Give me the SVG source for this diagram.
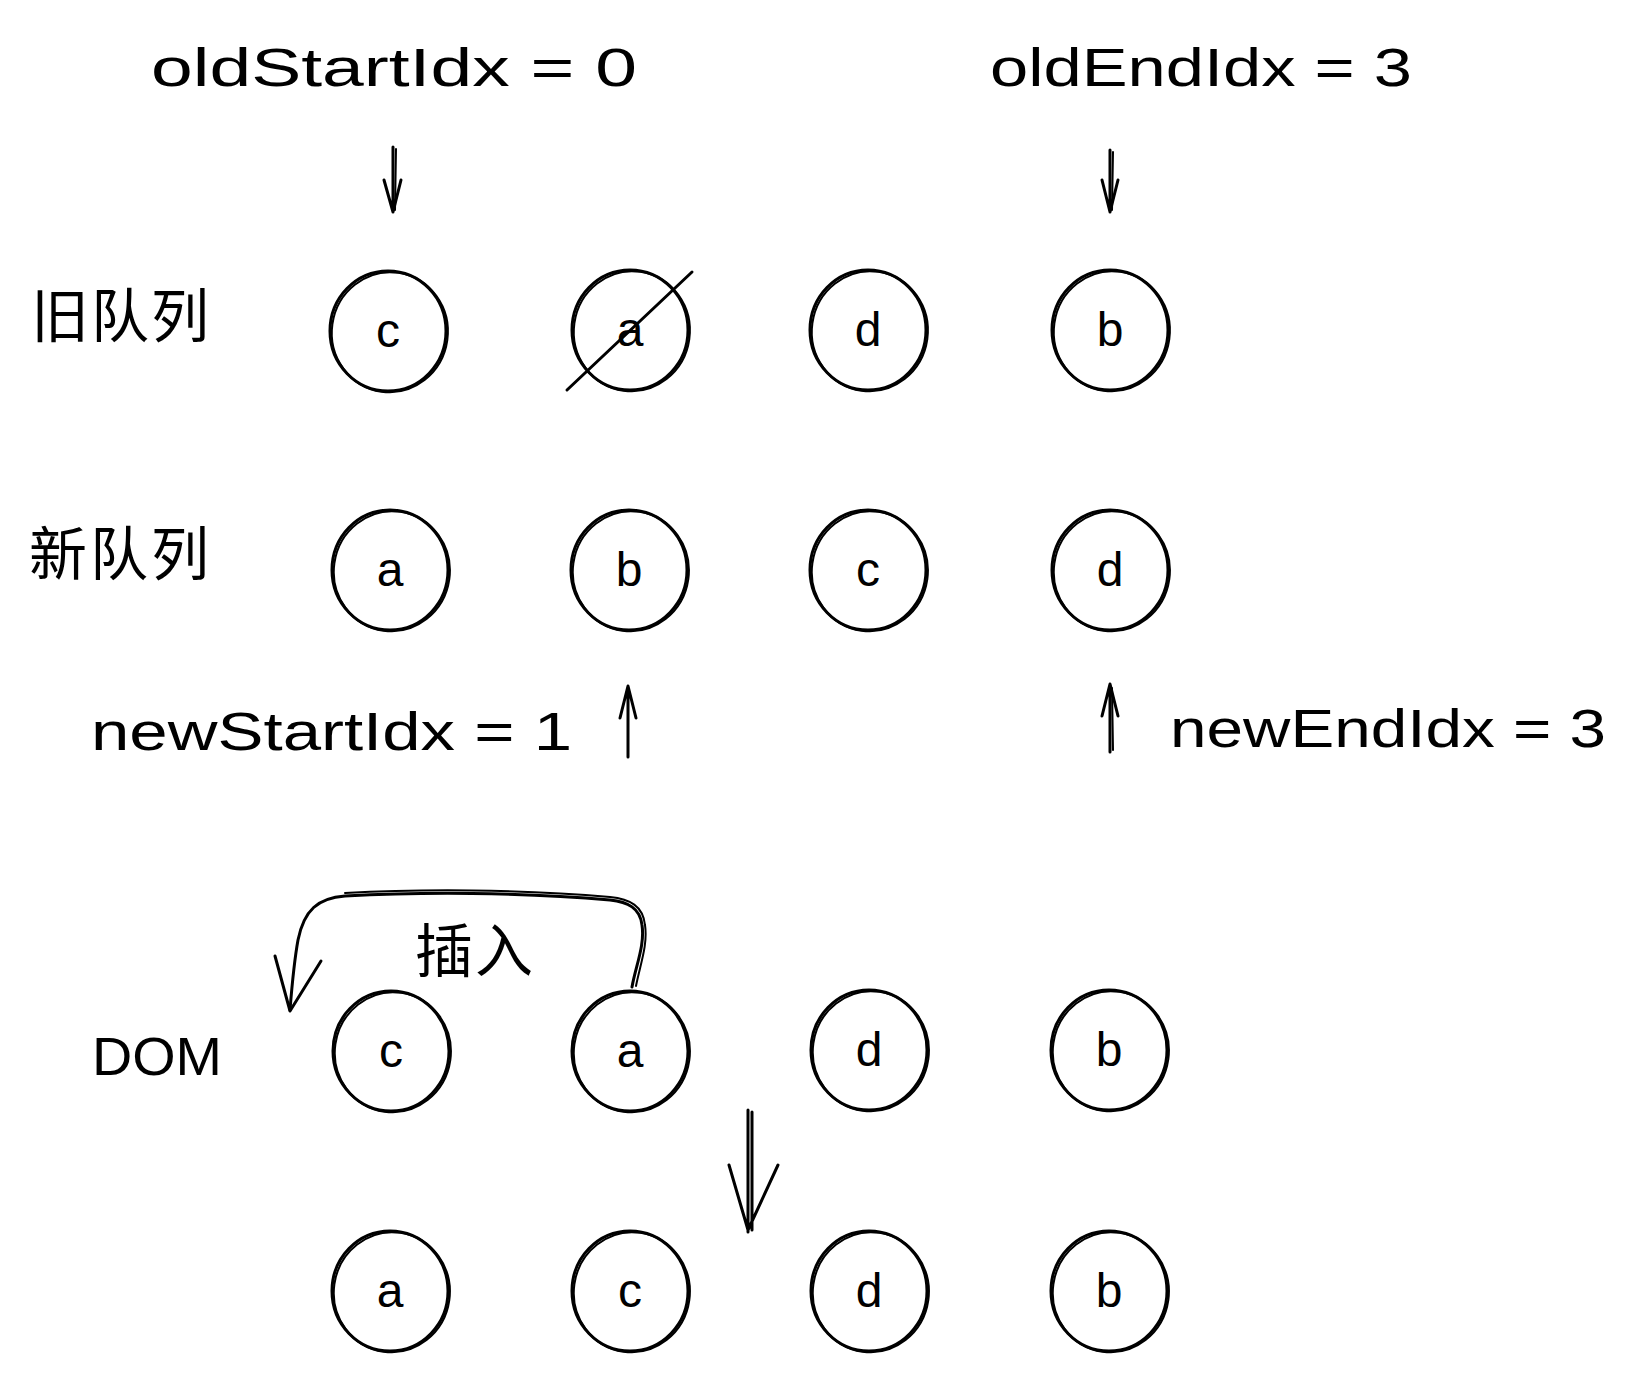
<svg xmlns="http://www.w3.org/2000/svg" width="1638" height="1380" viewBox="0 0 1638 1380">
<defs>
<style>
.s{fill:none;stroke:#000;stroke-width:3;stroke-linecap:round;stroke-linejoin:round}
.s2{fill:none;stroke:#000;stroke-width:2;stroke-linecap:round;stroke-linejoin:round}
.t{font-family:"Liberation Sans","DejaVu Sans",sans-serif;font-size:54px;fill:#000}
.l{font-family:"Liberation Sans","DejaVu Sans",sans-serif;font-size:48px;fill:#000;text-anchor:middle}
.cn{font-family:"Noto Sans CJK SC","Noto Sans",sans-serif;font-size:58px;fill:#000;font-weight:400}
</style>
<g id="ring">
<ellipse class="s" cx="0" cy="0" rx="58" ry="60"/>
<ellipse class="s2" cx="2" cy="1" rx="58" ry="60" transform="rotate(8)"/>
</g>
</defs>
<rect width="1638" height="1380" fill="#fff"/>

<g id="labels">
<text class="t" x="151" y="86" textLength="486" lengthAdjust="spacingAndGlyphs">oldStartIdx = 0</text>
<text class="t" x="990" y="86" textLength="422" lengthAdjust="spacingAndGlyphs">oldEndIdx = 3</text>
<text class="t" x="91" y="750" textLength="481" lengthAdjust="spacingAndGlyphs">newStartIdx = 1</text>
<text class="t" x="1170" y="747" textLength="436" lengthAdjust="spacingAndGlyphs">newEndIdx = 3</text>
<text class="cn" x="31" y="337" textLength="178">旧队列</text>
<text class="cn" x="29" y="575" textLength="180">新队列</text>
<text class="cn" x="415" y="972" textLength="118">插入</text>
<text class="t" x="92" y="1075" textLength="130" lengthAdjust="spacingAndGlyphs">DOM</text>
</g>

<g id="old-c"><use href="#ring" x="388" y="331"/><text class="l" x="388" y="347">c</text></g>
<g id="old-a"><use href="#ring" x="630" y="330"/><text class="l" x="630" y="346">a</text></g>
<g id="old-d"><use href="#ring" x="868" y="330"/><text class="l" x="868" y="346">d</text></g>
<g id="old-b"><use href="#ring" x="1110" y="330"/><text class="l" x="1110" y="346">b</text></g>

<g id="new-a"><use href="#ring" x="390" y="570"/><text class="l" x="390" y="586">a</text></g>
<g id="new-b"><use href="#ring" x="629" y="570"/><text class="l" x="629" y="586">b</text></g>
<g id="new-c"><use href="#ring" x="868" y="570"/><text class="l" x="868" y="586">c</text></g>
<g id="new-d"><use href="#ring" x="1110" y="570"/><text class="l" x="1110" y="586">d</text></g>

<g id="dom-c"><use href="#ring" x="391" y="1051"/><text class="l" x="391" y="1067">c</text></g>
<g id="dom-a"><use href="#ring" x="630" y="1051"/><text class="l" x="630" y="1067">a</text></g>
<g id="dom-d"><use href="#ring" x="869" y="1050"/><text class="l" x="869" y="1066">d</text></g>
<g id="dom-b"><use href="#ring" x="1109" y="1050"/><text class="l" x="1109" y="1066">b</text></g>

<g id="res-a"><use href="#ring" x="390" y="1291"/><text class="l" x="390" y="1307">a</text></g>
<g id="res-c"><use href="#ring" x="630" y="1291"/><text class="l" x="630" y="1307">c</text></g>
<g id="res-d"><use href="#ring" x="869" y="1291"/><text class="l" x="869" y="1307">d</text></g>
<g id="res-b"><use href="#ring" x="1109" y="1291"/><text class="l" x="1109" y="1307">b</text></g>

<g id="connectors">
<line class="s" x1="567" y1="390" x2="692" y2="272"/>
<path class="s" d="M393 147 L393 212 M384 180 L393 212 L401 180"/>
<path class="s2" d="M396 149 L395 210"/>
<path class="s" d="M1110 150 L1110 212 M1102 180 L1110 212 L1118 180"/>
<path class="s2" d="M1113 152 L1112 210"/>
<path class="s" d="M628 757 L628 686 M620 718 L628 686 L636 718"/>
<path class="s" d="M1110 752 L1110 684 M1102 716 L1110 684 L1118 716"/>
<path class="s2" d="M1113 750 L1112 688"/>
<path class="s" d="M632 987 C636 965 645 945 642 925 C640 908 628 902 610 900 C520 892 420 892 345 896 C318 898 304 910 298 940 C294 962 292 985 290 1010"/>
<path class="s2" d="M636 986 C640 965 648 945 645 925 C643 906 630 899 610 897 C520 889 420 889 345 893"/>
<path class="s" d="M275 956 L290 1011 L321 961"/>
<path class="s" d="M748 1110 L748 1232 M752 1112 L752 1230 M729 1165 L748 1230 L778 1165"/>
</g>
</svg>
